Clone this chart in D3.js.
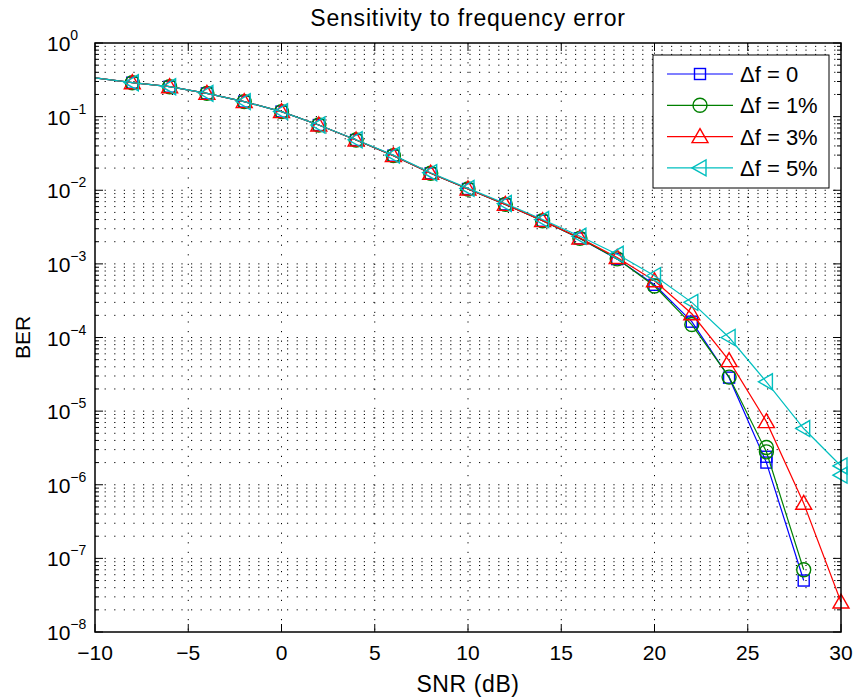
<!DOCTYPE html>
<html>
<head>
<meta charset="utf-8">
<script src="https://cdn.jsdelivr.net/npm/d3@7"></script>
<style>
  body { margin: 0; background: #fff; }
  text { font-family: "Liberation Sans", Arial, sans-serif; fill: #000; }
</style>
</head>
<body>
<div id="chart"></div>
<script>
// SNR points (dB)
const snr = [-10, -8, -6, -4, -2, 0, 2, 4, 6, 8, 10, 12, 14, 16, 18, 20, 22, 24, 26, 28, 30];

// BER per frequency error
const berDf0 = [0.335, 0.289, 0.255, 0.207, 0.160, 0.117, 0.0769, 0.0481, 0.0295, 0.0170, 0.0104, 0.00643, 0.00385, 0.00222, 0.00116, 5.2e-4, 1.64e-4, 2.85e-5, 2.0e-6, 5.0e-8, null];
const berDf1 = [0.335, 0.289, 0.255, 0.207, 0.160, 0.117, 0.0769, 0.0481, 0.0295, 0.0170, 0.0104, 0.00643, 0.00385, 0.00222, 0.00117, 5.0e-4, 1.5e-4, 2.9e-5, 2.8e-6, 7.0e-8, null];
const berDf3 = [0.335, 0.289, 0.255, 0.207, 0.160, 0.117, 0.0769, 0.0481, 0.0295, 0.0170, 0.0104, 0.00643, 0.00387, 0.00225, 0.00122, 5.9e-4, 2.1e-4, 4.85e-5, 7.2e-6, 5.6e-7, 2.55e-8];
const berDf5 = [0.335, 0.289, 0.255, 0.207, 0.160, 0.117, 0.0769, 0.0485, 0.0300, 0.0173, 0.0106, 0.00660, 0.00400, 0.00237, 0.00135, 6.9e-4, 3.0e-4, 1.0e-4, 2.5e-5, 5.8e-6, 1.8e-6];

// second-run markers that show up beside the main ones
const extraSnr = [26, 26, 30];
const extraBer = [2.4e-6, 3.2e-6, 1.35e-6];
const extraSeries = [0, 1, 3];

const labels = ['\u0394f = 0', '\u0394f = 1%', '\u0394f = 3%', '\u0394f = 5%'];
const xTicks = [-10, -5, 0, 5, 10, 15, 20, 25, 30];
const yExponents = [0, -1, -2, -3, -4, -5, -6, -7, -8];

const width = 854, height = 698;
const margin = {top: 43, left: 95, right: 13, bottom: 66};
const w = width - margin.left - margin.right;
const h = height - margin.top - margin.bottom;

const colors = ['#0000ff', '#008000', '#ff0000', '#00bfbf'];
const shapes = ['square', 'circle', 'tri-up', 'tri-left'];
const series = [berDf0, berDf1, berDf3, berDf5];

const svg = d3.select('#chart').append('svg')
    .attr('width', width)
    .attr('height', height)
  .append('g')
    .attr('transform', 'translate(' + margin.left + ',' + margin.top + ')');

const x = d3.scaleLinear().domain([-10, 30]).range([0, w]);
const y = d3.scaleLog().domain([1e-8, 1]).range([h, 0]);

// Grid values: every 1..9 x decade
let gridVals = [];
for (let e = -8; e < 0; e++) {
  for (let m = 1; m <= 9; m++) gridVals.push(m * Math.pow(10, e));
}
gridVals.push(1);

// Horizontal grid
svg.append('g').selectAll('line')
  .data(gridVals.filter(v => v > 1e-8 && v < 1))
  .enter().append('line')
    .attr('x1', 0).attr('x2', w)
    .attr('y1', d => y(d)).attr('y2', d => y(d))
    .attr('stroke', '#000')
    .attr('stroke-width', 1)
    .attr('stroke-dasharray', '1.2,8.4');

// Vertical grid
svg.append('g').selectAll('line')
  .data(xTicks.slice(1, -1))
  .enter().append('line')
    .attr('x1', d => x(d)).attr('x2', d => x(d))
    .attr('y1', 0).attr('y2', h)
    .attr('stroke', '#000')
    .attr('stroke-width', 1)
    .attr('stroke-dasharray', '1.2,8.4');

// Ticks (inside, both sides)
const ticks = svg.append('g').attr('stroke', '#000').attr('stroke-width', 1);
gridVals.forEach(v => {
  const lg10 = Math.log10(v);
  const major = Math.abs(lg10 - Math.round(lg10)) < 1e-9;
  const len = major ? 8 : 4;
  ticks.append('line').attr('x1', 0).attr('x2', len).attr('y1', y(v)).attr('y2', y(v));
  ticks.append('line').attr('x1', w).attr('x2', w - len).attr('y1', y(v)).attr('y2', y(v));
});
xTicks.forEach(t => {
  ticks.append('line').attr('x1', x(t)).attr('x2', x(t)).attr('y1', h).attr('y2', h - 8);
  ticks.append('line').attr('x1', x(t)).attr('x2', x(t)).attr('y1', 0).attr('y2', 8);
});

// X tick labels
svg.append('g').selectAll('text')
  .data(xTicks)
  .enter().append('text')
    .attr('x', d => x(d))
    .attr('y', h + 28)
    .attr('text-anchor', 'middle')
    .style('font-size', '21px')
    .text(d => d < 0 ? '\u2212' + Math.abs(d) : d);

// Y tick labels, 10^n
const yl = svg.append('g').selectAll('text')
  .data(yExponents)
  .enter().append('text')
    .attr('x', -48)
    .attr('y', d => y(Math.pow(10, d)) + 8)
    .style('font-size', '21px');
yl.append('tspan').text('10');
yl.append('tspan')
  .attr('dy', -11)
  .style('font-size', '14px')
  .text(d => d < 0 ? '\u2212' + Math.abs(d) : d);

// Lines
const line = d3.line()
  .defined(d => d.v != null)
  .x(d => x(d.s))
  .y(d => y(d.v));

const plot = svg.append('g');

function drawMarker(g, shape, cx, cy) {
  if (shape === 'square') {
    g.append('rect').attr('x', cx - 5.5).attr('y', cy - 5.5).attr('width', 11).attr('height', 11);
  } else if (shape === 'circle') {
    g.append('circle').attr('cx', cx).attr('cy', cy).attr('r', 7);
  } else if (shape === 'tri-up') {
    g.append('path').attr('d', 'M' + cx + ',' + (cy - 8) + 'L' + (cx + 8) + ',' + (cy + 6) + 'L' + (cx - 8) + ',' + (cy + 6) + 'Z');
  } else {
    g.append('path').attr('d', 'M' + (cx - 8) + ',' + cy + 'L' + (cx + 6) + ',' + (cy - 8) + 'L' + (cx + 6) + ',' + (cy + 8) + 'Z');
  }
}

series.forEach((vals, i) => {
  const pts = snr.map((s, j) => ({s: s, v: vals[j]}));
  plot.append('path')
    .datum(pts)
    .attr('d', line)
    .attr('fill', 'none')
    .attr('stroke', colors[i])
    .attr('stroke-width', 1.2);
  const mg = plot.append('g')
    .attr('fill', 'none')
    .attr('stroke', colors[i])
    .attr('stroke-width', 1.4);
  pts.filter(p => p.v != null && p.s > -10).forEach(p => {
    drawMarker(mg, shapes[i], x(p.s), y(p.v));
  });
  extraSnr.forEach((s, k) => {
    if (extraSeries[k] === i) drawMarker(mg, shapes[i], x(s), y(extraBer[k]));
  });
});

// Axes box
svg.append('rect')
  .attr('x', 0).attr('y', 0).attr('width', w).attr('height', h)
  .attr('fill', 'none').attr('stroke', '#000').attr('stroke-width', 1.5);

// Title and axis labels
svg.append('text')
  .attr('x', w / 2).attr('y', -17)
  .attr('text-anchor', 'middle')
  .style('font-size', '23px')
  .style('letter-spacing', '0.8px')
  .text('Sensitivity to frequency error');

svg.append('text')
  .attr('x', w / 2).attr('y', h + 60)
  .attr('text-anchor', 'middle')
  .style('font-size', '23px')
  .style('letter-spacing', '0.6px')
  .text('SNR (dB)');

svg.append('text')
  .attr('transform', 'translate(' + (-65) + ',' + (h / 2) + ') rotate(-90)')
  .attr('text-anchor', 'middle')
  .style('font-size', '21px')
  .text('BER');

// Legend
const lg = svg.append('g').attr('transform', 'translate(' + (653 - margin.left) + ',' + (55 - margin.top) + ')');
lg.append('rect')
  .attr('width', 176).attr('height', 133)
  .attr('fill', '#fff').attr('stroke', '#000').attr('stroke-width', 1);
labels.forEach((lab, i) => {
  const ly = 19 + i * 31.3;
  lg.append('line')
    .attr('x1', 14).attr('x2', 80).attr('y1', ly).attr('y2', ly)
    .attr('stroke', colors[i]).attr('stroke-width', 1.2);
  const mg = lg.append('g').attr('fill', 'none').attr('stroke', colors[i]).attr('stroke-width', 1.4);
  drawMarker(mg, shapes[i], 47, ly);
  lg.append('text')
    .attr('x', 87).attr('y', ly + 8)
    .style('font-size', '22px')
    .text(lab);
});
</script>
</body>
</html>
